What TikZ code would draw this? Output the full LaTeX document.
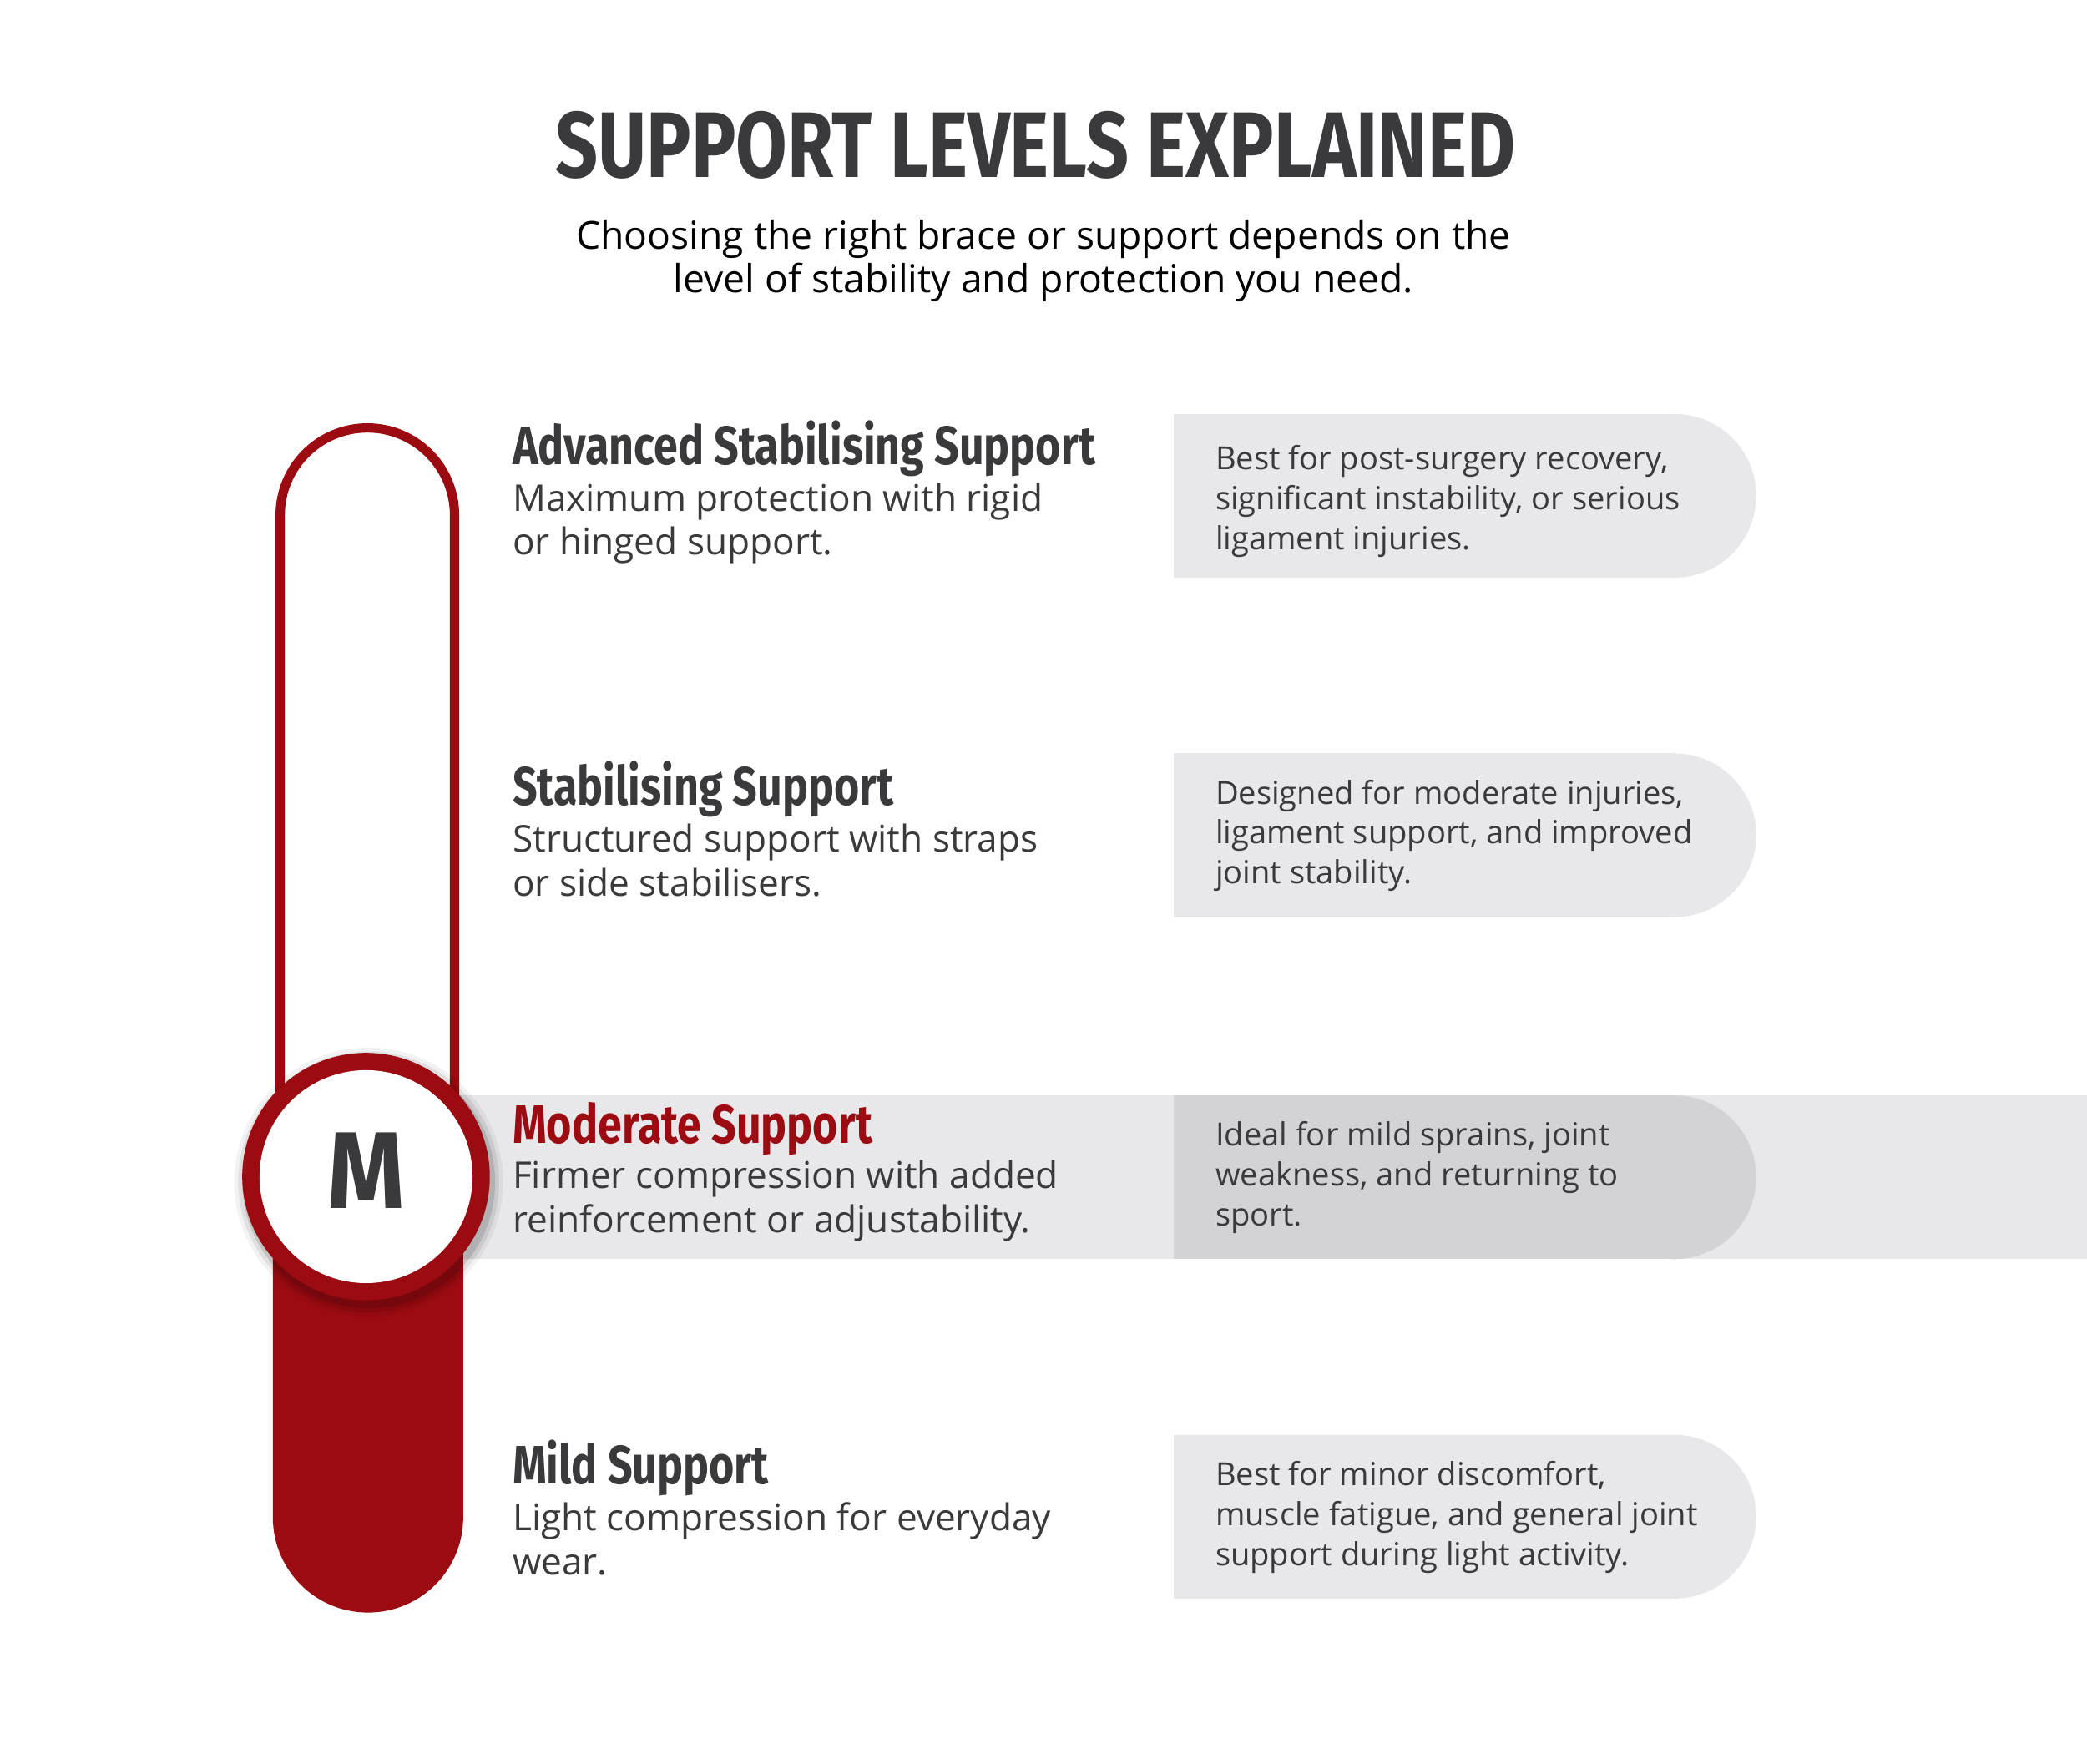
\documentclass[tikz,border=0pt]{standalone}
\usepackage{fontspec}
\setmainfont{Open Sans}
\newfontfamily\headfont{Fira Sans}[FakeStretch=0.8]
\newfontfamily\mfont{Fira Sans}[FakeStretch=0.9]
\definecolor{rd}{HTML}{9B0B11}
\definecolor{tx}{HTML}{3A3A3C}
\definecolor{lg}{HTML}{E8E8EA}
\definecolor{dg}{HTML}{D3D3D5}
\tikzset{
 ttl/.style={anchor=base,inner sep=0,text=tx,font=\headfont\bfseries\fontsize{70}{80}\selectfont},
 sub/.style={anchor=base,inner sep=0,text=black,font=\fontsize{29}{33}\selectfont},
 hd/.style={anchor=base west,inner sep=0,text=tx,font=\headfont\bfseries\fontsize{40.7}{46}\selectfont},
 ds/.style={anchor=base west,inner sep=0,text=tx,font=\fontsize{27.7}{33}\selectfont},
 bx/.style={anchor=base west,inner sep=0,text=tx,font=\fontsize{23.9}{30}\selectfont},
}
\begin{document}
\begin{tikzpicture}[x=1pt,y=-1pt]
\useasboundingbox (0,0) rectangle (1568,1325);
\node[ttl] (title) at (778,133) {SUPPORT LEVELS EXPLAINED};
\node[sub] (s1) at (784,187) {Choosing the right brace or support depends on the};
\node[sub] (s2) at (784,220) {level of stability and protection you need.};
% band
\fill[lg] (345,823) rectangle (1568,946);
% boxes
\foreach \y/\c in {311/lg,566/lg,823/dg,1078/lg}{
 \fill[\c] (882,\y) rectangle (1258,\y+123);
 \fill[\c] (1258,\y+61.5) circle[radius=61.5];
}
% thermometer
\draw[rd,line width=7] (210.5,840) -- (210.5,387) arc[start angle=180,end angle=360,radius=65.5] -- (341.5,840);
\fill[rd] (205,900) -- (205,1140) arc[start angle=180,end angle=0,radius=71.5] -- (348,900) -- cycle;
\foreach \r/\o in {101/0.05,98/0.08,95/0.12}{\fill[black,opacity=\o] (277,888) circle[radius=\r];}
\fill[rd] (275,884) circle[radius=93];
\fill[white] (275,884) circle[radius=80];
\node[anchor=base,inner sep=0,text=tx,font=\mfont\bfseries\fontsize{82}{90}\selectfont] (m) at (275,908) {M};
% rows
\node[hd] (h1) at (385,349) {Advanced Stabilising Support};
\node[ds] (d1a) at (385,384) {Maximum protection with rigid};
\node[ds] (d1b) at (385,417) {or hinged support.};
\node[hd] (h2) at (385,605) {Stabilising Support};
\node[ds] (d2a) at (385,640) {Structured support with straps};
\node[ds] (d2b) at (385,673) {or side stabilisers.};
\node[hd,text=rd] (h3) at (385,859) {Moderate Support};
\node[ds] (d3a) at (385,893) {Firmer compression with added};
\node[ds] (d3b) at (385,926) {reinforcement or adjustability.};
\node[hd] (h4) at (385,1115) {Mild Support};
\node[ds] (d4a) at (385,1150) {Light compression for everyday};
\node[ds] (d4b) at (385,1183) {wear.};
\node[bx] (b1a) at (913,353) {Best for post-surgery recovery,};
\node[bx] (b1b) at (913,383) {significant instability, or serious};
\node[bx] (b1c) at (913,413) {ligament injuries.};
\node[bx] (b2a) at (913,604) {Designed for moderate injuries,};
\node[bx] (b2b) at (913,634) {ligament support, and improved};
\node[bx] (b2c) at (913,664) {joint stability.};
\node[bx] (b3a) at (913,861) {Ideal for mild sprains, joint};
\node[bx] (b3b) at (913,891) {weakness, and returning to};
\node[bx] (b3c) at (913,921) {sport.};
\node[bx] (b4a) at (913,1116) {Best for minor discomfort,};
\node[bx] (b4b) at (913,1146) {muscle fatigue, and general joint};
\node[bx] (b4c) at (913,1176) {support during light activity.};
\end{tikzpicture}
\end{document}
